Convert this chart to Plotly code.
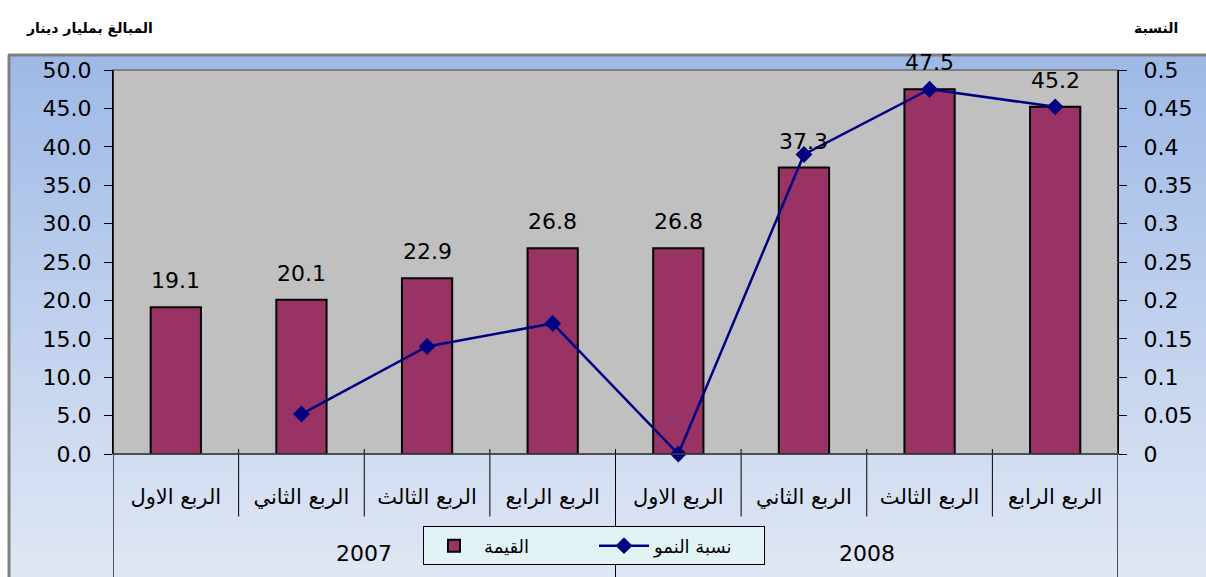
import plotly.graph_objects as go

quarters = ["الربع الاول", "الربع الثاني", "الربع الثالث", "الربع الرابع",
            "الربع الاول", "الربع الثاني", "الربع الثالث", "الربع الرابع"]
years = ["2007", "2008"]
values = [19.1, 20.1, 22.9, 26.8, 26.8, 37.3, 47.5, 45.2]
growth = [None, 0.052, 0.14, 0.17, 0.0, 0.39, 0.475, 0.452]
left_ticks = [0, 5, 10, 15, 20, 25, 30, 35, 40, 45, 50]
right_ticks = [0, 0.05, 0.1, 0.15, 0.2, 0.25, 0.3, 0.35, 0.4, 0.45, 0.5]
right_labels = ["0", "0.05", "0.1", "0.15", "0.2", "0.25", "0.3", "0.35", "0.4", "0.45", "0.5"]

W, H = 1206, 577
L, R, T, B = 113, 1118, 70, 457  # plot area in pixels
PW, PH = R - L, B - T

def px(x):
    return (x - L) / PW

def py(y):
    return (B - y) / PH

xs = list(range(len(quarters)))

fig = go.Figure()
fig.add_trace(go.Bar(
    x=xs, y=values, name="القيمة", width=0.4,
    marker=dict(color="#993366", line=dict(color="#000000", width=2)),
    yaxis="y",
))
fig.add_trace(go.Scatter(
    x=xs, y=growth, name="نسبة النمو", mode="lines+markers",
    line=dict(color="#000080", width=2.5),
    marker=dict(symbol="diamond", size=13, color="#000080"),
    yaxis="y2", cliponaxis=False, connectgaps=False,
))

shapes = []
top_c = (157, 185, 230)
bot_c = (224, 231, 244)
y0p, y1p = 55, 577
n = 54
for i in range(n):
    a = y0p + (y1p - y0p) * i / n
    b = y0p + (y1p - y0p) * (i + 1) / n + 0.6
    if i == n - 1:
        b = 610
    t = (i + 0.5) / n
    c = tuple(int(round(top_c[k] + (bot_c[k] - top_c[k]) * t)) for k in range(3))
    shapes.append(dict(type="rect", xref="paper", yref="paper",
                       x0=px(8), x1=px(1240), y0=py(a), y1=py(b),
                       fillcolor="rgb(%d,%d,%d)" % c, line=dict(width=0), layer="below"))
shapes.append(dict(type="line", xref="paper", yref="paper", x0=px(8), x1=px(1240),
                   y0=py(55), y1=py(55), line=dict(color="#808080", width=3), layer="below"))
shapes.append(dict(type="line", xref="paper", yref="paper", x0=px(9), x1=px(9),
                   y0=py(55), y1=py(610), line=dict(color="#808080", width=3), layer="below"))
shapes.append(dict(type="rect", xref="paper", yref="paper", x0=0, x1=1, y0=0, y1=1,
                   fillcolor="#C0C0C0", line=dict(color="#808080", width=2), layer="below"))
for xv in [-0.5, 7.5]:
    shapes.append(dict(type="line", xref="x", yref="paper", x0=xv, x1=xv, y0=1, y1=py(610),
                       line=dict(color="#000000", width=1.3)))
for xv in [0.5, 1.5, 2.5, 4.5, 5.5, 6.5]:
    shapes.append(dict(type="line", xref="x", yref="paper", x0=xv, x1=xv, y0=0, y1=py(520),
                       line=dict(color="#000000", width=1)))
shapes.append(dict(type="line", xref="x", yref="paper", x0=3.5, x1=3.5, y0=0, y1=py(610),
                   line=dict(color="#000000", width=1)))
for xv in [0.5, 1.5, 2.5, 3.5, 4.5, 5.5, 6.5]:
    shapes.append(dict(type="line", xref="x", yref="paper", x0=xv, x1=xv, y0=0, y1=py(452),
                       line=dict(color="#000000", width=1)))
shapes.append(dict(type="line", xref="paper", yref="paper", x0=0, x1=1, y0=0, y1=0,
                   line=dict(color="#404040", width=1.5)))

annotations = []
for xv, v in zip(xs, values):
    annotations.append(dict(x=xv, y=v, xref="x", yref="y", text="%.1f" % v, showarrow=False,
                            yanchor="bottom", yshift=12,
                            font=dict(family="DejaVu Sans", size=22, color="#000000")))
for i, yr in enumerate(years):
    annotations.append(dict(x=1.5 + 4 * i, y=py(557), xref="x", yref="paper", text=yr,
                            showarrow=False, yanchor="middle",
                            font=dict(family="DejaVu Sans", size=22, color="#000000")))
annotations.append(dict(x=px(155), y=py(18), xref="paper", yref="paper", xanchor="right",
                        text="<b>المبالغ بمليار دينار</b>", showarrow=False,
                        font=dict(family="DejaVu Sans", size=14, color="#000000")))
annotations.append(dict(x=px(1180), y=py(18), xref="paper", yref="paper", xanchor="right",
                        text="<b>النسبة</b>", showarrow=False,
                        font=dict(family="DejaVu Sans", size=14, color="#000000")))

fig.update_layout(
    width=W, height=H,
    margin=dict(l=L, r=W - R, t=T, b=H - B, pad=0),
    paper_bgcolor="#FFFFFF",
    plot_bgcolor="rgba(0,0,0,0)",
    showlegend=True,
    legend=dict(orientation="h", x=px(423), y=py(530), xanchor="left", yanchor="top",
                bgcolor="#E2F3F6", bordercolor="#000000", borderwidth=1,
                font=dict(family="DejaVu Sans", size=18, color="#000000"),
                entrywidth=105, itemwidth=50, traceorder="normal"),
    xaxis=dict(range=[-0.5, 7.5], tickmode="array", tickvals=xs, ticktext=quarters,
               showgrid=False, zeroline=False, ticks="", showline=False,
               tickfont=dict(family="DejaVu Sans", size=21, color="#000000"),
               ticklabelstandoff=28, fixedrange=True),
    yaxis=dict(range=[0, 50], tickmode="array", tickvals=left_ticks,
               ticktext=["%.1f" % v for v in left_ticks],
               showgrid=False, zeroline=False, ticks="outside", ticklen=8, tickwidth=1.3,
               tickcolor="#000000", showline=True, linecolor="#000000", linewidth=1.3,
               tickfont=dict(family="DejaVu Sans", size=22, color="#000000"),
               ticklabelstandoff=8),
    yaxis2=dict(range=[0, 0.5], overlaying="y", side="right", tickmode="array",
                tickvals=right_ticks, ticktext=right_labels,
                showgrid=False, zeroline=False, ticks="outside", ticklen=8, tickwidth=1.3,
                tickcolor="#000000", showline=True, linecolor="#000000", linewidth=1.3,
                tickfont=dict(family="DejaVu Sans", size=22, color="#000000"),
                ticklabelstandoff=12),
    shapes=shapes,
    annotations=annotations,
    bargap=0.6,
)

fig.write_html("out.html", config={"displayModeBar": False},
               post_script="document.body.style.margin='0';document.body.style.overflow='hidden';")
